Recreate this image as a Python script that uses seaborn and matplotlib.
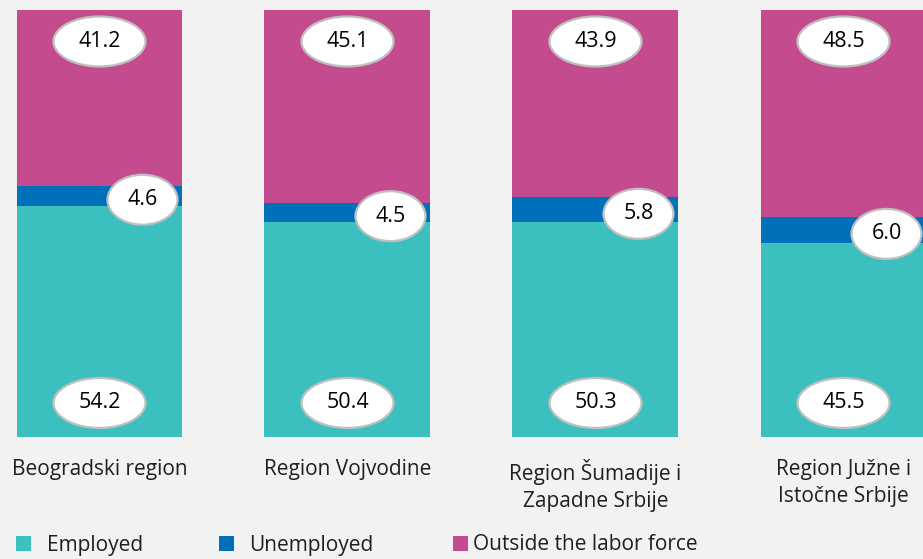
import matplotlib
matplotlib.use("Agg")
import matplotlib.pyplot as plt
from matplotlib.patches import Ellipse, Patch
import seaborn as sns
import pandas as pd
import numpy as np

categories = ["Beogradski region", "Region Vojvodine",
              "Region Šumadije i\nZapadne Srbije", "Region Južne i\nIstočne Srbije"]
employed = [54.2, 50.4, 50.3, 45.5]
unemployed = [4.6, 4.5, 5.8, 6.0]
outside = [41.2, 45.1, 43.9, 48.5]
series_names = ["Employed", "Unemployed", "Outside the labor force"]

c_emp = "#3BBFBF"
c_unemp = "#0070BA"
c_out = "#C54B8F"
bg = "#F2F2F2"
txt_col = "#1f1f1f"

sns.set_theme(style="white")
plt.rcParams["font.family"] = ["Open Sans", "DejaVu Sans"]

W, H = 923, 559
fig = plt.figure(figsize=(W / 100, H / 100), dpi=100, facecolor=bg)
ax = fig.add_axes([0, (H - 437) / H, 1, 427 / H])
ax.set_facecolor(bg)

df = pd.DataFrame({"cat": categories,
                   "emp": employed,
                   "unemp": unemployed,
                   "out": outside})
df["top2"] = df["emp"] + df["unemp"]
df["top3"] = df["top2"] + df["out"]

bw = 166 / 248
sns.barplot(data=df, x="cat", y="top3", color=c_out, width=bw, ax=ax,
            saturation=1, edgecolor="none", order=categories)
sns.barplot(data=df, x="cat", y="top2", color=c_unemp, width=bw, ax=ax,
            saturation=1, edgecolor="none", order=categories)
sns.barplot(data=df, x="cat", y="emp", color=c_emp, width=bw, ax=ax,
            saturation=1, edgecolor="none", order=categories)

ax.set_xlim(-99.5 / 248, (W - 99.5) / 248)
ax.set_ylim(0, 100)
px_y = 100 / 427.0
px_x = 1 / 248.0

def label(x, y, txt, w, h):
    e = Ellipse((x, y), w * px_x, h * px_y, facecolor="white",
                edgecolor="#BFBFBF", linewidth=1.6, zorder=5, clip_on=False)
    ax.add_patch(e)
    ax.text(x, y, txt, ha="center", va="center", fontsize=15.5,
            color="black", zorder=6)

for i in range(len(categories)):
    label(i, 34 * px_y, f"{employed[i]:.1f}", 92, 50)
    label(i, 100 - 31.5 * px_y, f"{outside[i]:.1f}", 92, 50)
    ymid = employed[i] + unemployed[i] / 2 - 4 * px_y
    label(i + 43 * px_x, ymid, f"{unemployed[i]:.1f}", 70, 50)

ax.set_xlabel("")
ax.set_ylabel("")
ax.set_yticks([])
ax.set_xticks(range(len(categories)))
ax.set_xticklabels(categories, fontsize=15, color=txt_col, linespacing=1.35)
ax.tick_params(axis="x", length=0, pad=16)
for s in ax.spines.values():
    s.set_visible(False)

legend_pos = [(16, 545), (219, 545), (453, 545)]
cols = [c_emp, c_unemp, c_out]
pads = [0.8, 0.75, 0.28]
for (lx, ly), col, name, pd_ in zip(legend_pos, cols, series_names, pads):
    h = Patch(facecolor=col, edgecolor="none")
    fig.legend(handles=[h], labels=[name], loc="center left",
               bbox_to_anchor=(lx / W, 1 - ly / H), frameon=False,
               fontsize=15, handlelength=0.7, handleheight=0.7,
               handletextpad=pd_, borderpad=0, borderaxespad=0,
               labelcolor=txt_col)

fig.savefig("out.png", dpi=100, facecolor=bg)
